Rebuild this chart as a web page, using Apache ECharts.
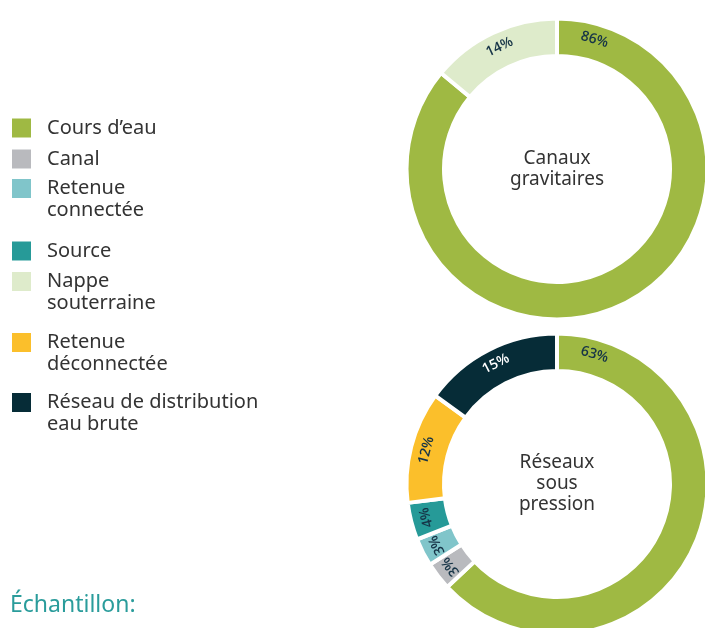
<!DOCTYPE html>
<html lang="fr">
<head>
<meta charset="utf-8">
<title>Canaux gravitaires / Réseaux sous pression</title>
<script src="https://cdn.jsdelivr.net/npm/echarts@6/dist/echarts.min.js"></script>
<style>
  html, body { margin: 0; padding: 0; background: #ffffff; }
  #chart { width: 705px; height: 628px; }
</style>
</head>
<body>
<div id="chart"></div>
<script>
// categories, in legend order
const categories = [
  'Cours d’eau',
  'Canal',
  'Retenue\nconnectée',
  'Source',
  'Nappe\nsouterraine',
  'Retenue\ndéconnectée',
  'Réseau de distribution\neau brute',
]
const colors = ['#9fb943', '#b9babe', '#80c5ca', '#269a98', '#deebcb', '#fbbf2b', '#062c37']

// shares (%) per network type
const canauxGravitaires = [86, 0, 0, 0, 14, 0, 0]
const reseauxSousPression = [63, 3, 3, 4, 0, 12, 15]

const centerTitles = ['Canaux\ngravitaires', 'Réseaux\nsous\npression']

// layout
const legendTops = [117, 148, 178, 240, 271, 332, 392]
const donutCenters = [[557, 169], [557, 484]]
const radius = [113, 150.5]
const labelLead = 9 // first slice label sits near its start

const chart = echarts.init(document.getElementById('chart'), null, { renderer: 'canvas' })

function sliceData(values) {
  return values
    .map((v, i) => ({ name: categories[i], value: v, itemStyle: { color: colors[i] } }))
    .filter(d => d.value > 0)
}

function labelData(values) {
  const total = values.reduce((a, b) => a + b, 0)
  const items = []
  let acc = 0
  values.forEach((v, i) => {
    if (!v) return
    const parts = items.length === 0 ? [labelLead, v - labelLead] : [v]
    parts.forEach((p, k) => {
      const mid = (acc + p / 2) / total * 360
      items.push({
        value: p,
        label: {
          show: k === 0,
          formatter: v + '%',
          rotate: -mid,
          color: i === 6 ? '#ffffff' : '#163447',
        },
      })
      acc += p
    })
  })
  return items
}

function donut(values, center, title) {
  return [
    {
      type: 'pie',
      center,
      radius,
      startAngle: 90,
      silent: true,
      label: { show: false },
      labelLine: { show: false },
      itemStyle: { borderColor: '#ffffff', borderWidth: 4 },
      data: sliceData(values),
    },
    {
      type: 'pie',
      center,
      radius,
      startAngle: 90,
      silent: true,
      avoidLabelOverlap: false,
      itemStyle: { color: 'transparent' },
      labelLine: { show: false },
      label: {
        position: 'inside',
        fontFamily: 'Open Sans',
        fontWeight: 600,
        fontSize: 14,
      },
      data: labelData(values),
    },
    {
      type: 'pie',
      center,
      radius: [0, 10],
      silent: true,
      itemStyle: { color: 'transparent' },
      labelLine: { show: false },
      label: {
        show: true,
        position: 'center',
        formatter: title,
        fontFamily: 'Noto Sans',
        fontSize: 19,
        lineHeight: 21,
        color: '#333333',
      },
      data: [{ value: 1, name: '' }],
    },
  ]
}

function buildOption() {
  const legends = categories.map((name, i) => {
    const twoLines = name.includes('\n')
    return {
      data: [name],
      left: 10,
      top: legendTops[i] - (twoLines ? 22.5 : 0.5),
      padding: 0,
      orient: 'vertical',
      icon: 'rect',
      itemWidth: 21,
      itemHeight: 21,
      selectedMode: false,
      // blank first line keeps the symbol level with the first text line
      formatter: n => (n.includes('\n') ? '\n' + n : n),
      textStyle: {
        fontFamily: 'Noto Sans',
        fontSize: 20,
        lineHeight: 22,
        color: '#333333',
        padding: [0, 0, 0, 10],
      },
    }
  })

  return {
    backgroundColor: '#ffffff',
    animation: false,
    title: {
      text: 'Échantillon:',
      left: 10,
      top: 594,
      padding: 0,
      textStyle: {
        fontFamily: 'Noto Sans',
        fontSize: 23,
        fontWeight: 'normal',
        color: '#2a9c9b',
      },
    },
    legend: legends,
    series: [
      ...donut(canauxGravitaires, donutCenters[0], centerTitles[0]),
      ...donut(reseauxSousPression, donutCenters[1], centerTitles[1]),
    ],
  }
}

chart.setOption(buildOption())
</script>
</body>
</html>
